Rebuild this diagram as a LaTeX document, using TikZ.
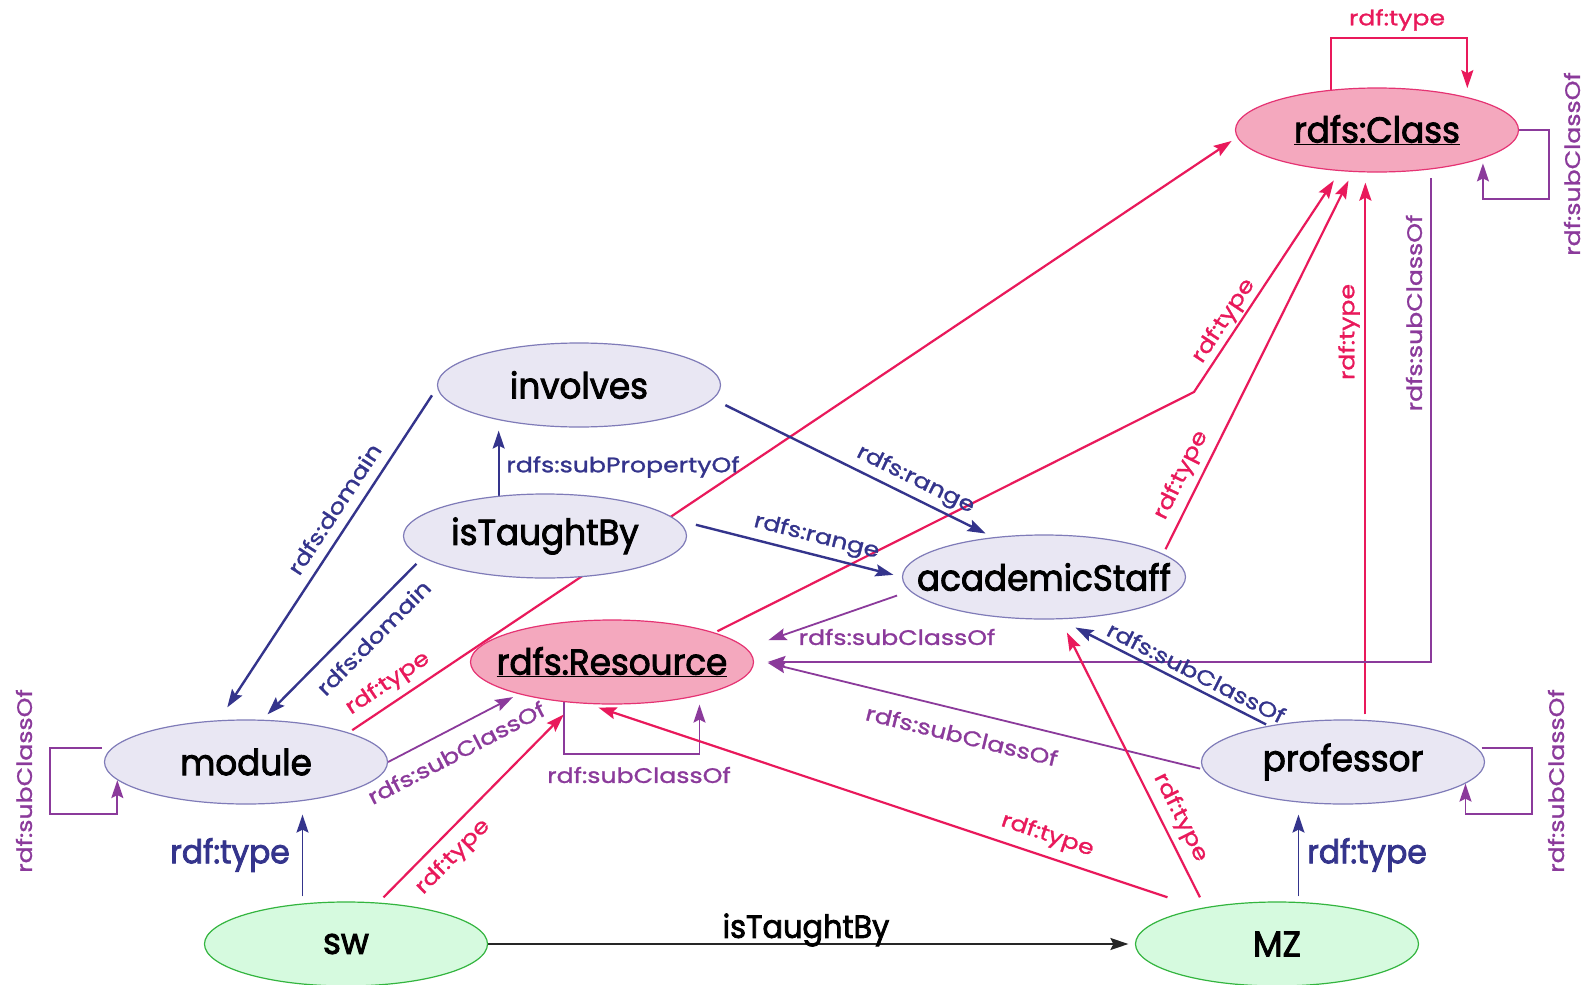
\documentclass[tikz,border=0pt]{standalone}
\usepackage{fontspec}
\setmainfont{Poppins}
\newfontfamily\ndfam{Poppins}[FakeStretch=0.95, FakeBold=2.4]
\newfontfamily\lbfam{Poppins}[FakeStretch=1.2, FakeBold=1.2]
\usetikzlibrary{arrows.meta,shapes.geometric}
\pgfdeclarelayer{background}
\pgfsetlayers{background,main}

\newcommand{\ndfont}{\ndfam\fontsize{36}{42}\selectfont}
\newcommand{\lbfont}{\lbfam\fontsize{21}{25}\selectfont}
\newcommand{\bgfont}{\ndfam\fontsize{33}{38}\selectfont}
\newcommand{\edfont}{\ndfam\fontsize{32}{38}\selectfont}
% node texts take no width, so every ellipse keeps the same size
\newcommand{\ndtext}[1]{\makebox[0pt][c]{#1}}

\definecolor{typered}{HTML}{E9195B}
\definecolor{propblue}{HTML}{34348C}
\definecolor{subpurple}{HTML}{8B3A9B}
\definecolor{propfill}{HTML}{E9E7F3}
\definecolor{propline}{HTML}{7F7BB8}
\definecolor{rdfsfill}{HTML}{F4A8BE}
\definecolor{rdfsline}{HTML}{E53373}
\definecolor{instfill}{HTML}{D6FADF}
\definecolor{instline}{HTML}{33B53F}

\tikzset{
  basenode/.style={ellipse, minimum width=283pt, minimum height=84pt, inner sep=0pt,
    line width=1.2pt, font=\ndfont, text=black},
  propnode/.style={basenode, draw=propline, fill=propfill},
  rdfsnode/.style={basenode, draw=rdfsline, fill=rdfsfill},
  instnode/.style={basenode, draw=instline, fill=instfill},
  tipped/.style={-{Stealth[length=18pt,width=12pt,inset=3pt]}},
  typeedge/.style={tipped, draw=typered, line width=2.2pt},
  domedge/.style={tipped, draw=propblue, line width=2.4pt},
  blueedge/.style={tipped, draw=propblue, line width=1.8pt},
  subedge/.style={tipped, draw=subpurple, line width=1.8pt},
  factedge/.style={tipped, draw=black!85, line width=2pt},
  lbl/.style={font=\lbfont, inner sep=0pt},
  redlbl/.style={lbl, text=typered},
  bluelbl/.style={lbl, text=propblue},
  purplbl/.style={lbl, text=subpurple},
}

\begin{document}
\begin{tikzpicture}[x=1pt,y=-1pt]
\useasboundingbox (0,0) rectangle (1588,985);

% classes, properties and instances
\node[rdfsnode] (cls) at (1377,130) {\ndtext{\underline{rdfs:Class}}};
\node[propnode] (involves) at (579,385) {\ndtext{involves}};
\node[propnode] (taught) at (545,536) {\ndtext{isTaughtBy}};
\node[propnode] (staff) at (1044,577) {\ndtext{academicStaff}};
\node[rdfsnode] (res) at (612,662) {\ndtext{\underline{rdfs:Resource}}};
\node[propnode] (module) at (246,762) {\ndtext{module}};
\node[propnode] (prof) at (1343,762) {\ndtext{professor}};
\node[instnode] (sw) at (346,944) {\ndtext{sw}};
\node[instnode] (mz) at (1277,944) {\ndtext{MZ}};

\coordinate (bend) at (1194,392);

\begin{pgfonlayer}{background}
\fill[white] (0,0) rectangle (1588,985);

% rdfs:Class self loops
\draw[typeedge, shorten >=9pt] (cls.139.2) -- ++(0,-52) -| (cls.20.5);
\node[redlbl] (lclstype) at (1397,20) {rdf:type};
\draw[subedge, shorten >=5pt] (cls.east) -- ++(30,0) -- ++(0,69) -| (cls.345);
\node[purplbl, rotate=90] (lclssub) at (1572,164) {rdf:subClassOf};

% rdf:type into rdfs:Class
\draw[typeedge, shorten <=4.3pt, shorten >=6.5pt] (module.16.43) --
  node[redlbl, sloped, above=6.9pt, pos=0.056] (lmodcls) {rdf:type} (cls.183.48);
\draw[typeedge, shorten <=3pt, shorten >=11.2pt] (res.16.46) -- (bend) --
  node[redlbl, sloped, above=2.1pt, pos=0.286] (lrescls) {rdf:type} (cls.228.64);
\draw[typeedge, shorten <=5.2pt, shorten >=9.6pt] (staff.11.21) --
  node[redlbl, sloped, above=6.7pt, pos=0.184] (lstaffcls) {rdf:type} (cls.240.22);
\draw[typeedge, shorten <=5.5pt, shorten >=10pt] (prof.62.07) -- (prof.62.07 |- cls.south);
\node[redlbl, rotate=90] (lprofcls) at (1349,332) {rdf:type};

% rdfs:subClassOf into rdfs:Resource
\draw[subedge, shorten <=9pt, shorten >=13.5pt] (cls.324.29) |- (res.east);
\node[purplbl, rotate=90] (lclsres) at (1414,313) {rdfs:subClassOf};
\draw[subedge, shorten <=13.6pt, shorten >=23.6pt] (staff.186.88) -- (res.6.34);
\node[purplbl] (lstaffres) at (897,637) {rdfs:subClassOf};
\draw[subedge, shorten <=3pt, shorten >=14.4pt] (prof.183.18) --
  node[purplbl, sloped, below=15.4pt, pos=0.524] (lprofres) {rdfs:subClassOf} (res.1.4);
\draw[subedge, shorten >=6.4pt] (module.east) --
  node[purplbl, sloped, below=14.2pt, pos=0.44] (lmodres) {rdfs:subClassOf} (res.199.36);
\draw[subedge, shorten >=9pt] (res.220.8) -- ++(0,52) -| (res.339.2);
\node[purplbl] (lresloop) at (639,775) {rdf:subClassOf};

% self loops of module and professor
\draw[subedge, shorten <=10pt] (module.174) -- ++(-61.6,0) -- ++(0,66) -| (module.188);
\node[purplbl, rotate=90] (lmodloop) at (24,781) {rdf:subClassOf};
\draw[subedge, shorten <=4.6pt] (prof.6) -- ++(54.6,0) -- ++(0,66) -| (prof.350);
\node[purplbl, rotate=90] (lprofloop) at (1556,781) {rdf:subClassOf};

% domains, ranges and the property hierarchy
\draw[domedge, shorten <=9.4pt, shorten >=15.3pt] (involves.181.7) --
  node[bluelbl, sloped, above=10.1pt, pos=0.397] (linvdom) {rdfs:domain} (module.123.7);
\draw[domedge, shorten <=8.7pt, shorten >=7.4pt] (taught.190.25) --
  node[bluelbl, sloped, below=12pt, pos=0.401] (ltaudom) {rdfs:domain} (module.69.34);
\draw[blueedge, shorten >=3pt] (taught.139.2) -- (taught.139.2 |- involves.south);
\node[bluelbl] (lsubprop) at (623,467) {rdfs:subPropertyOf};
\draw[domedge, shorten <=13.7pt, shorten >=8.4pt] (involves.354.55) --
  node[bluelbl, sloped, above=4.8pt, pos=0.696] (linvrng) {rdfs:range} (staff.142.14);
\draw[domedge, shorten <=20pt, shorten >=8.8pt] (taught.7.4) --
  node[bluelbl, sloped, above=5.5pt, pos=0.602] (ltaurng) {rdfs:range} (staff.180.35);
\draw[domedge, shorten <=2.8pt, shorten >=18pt] (prof.154.39) --
  node[bluelbl, sloped, above=5.5pt, pos=0.377] (lprofstaff) {rdfs:subClassOf} (staff.290.95);

% the instances
\draw[blueedge, shorten <=7pt, shorten >=10pt] (sw.137.78) -- (sw.137.78 |- module.south);
\node[lbl, font=\bgfont, text=propblue] (lswtype) at (230,855) {rdf:type};
\draw[blueedge, shorten <=5.5pt, shorten >=10pt] (mz.63.18) -- (mz.63.18 |- prof.south);
\node[lbl, font=\bgfont, text=propblue] (lmztype) at (1367,855) {rdf:type};
\draw[typeedge, shorten <=7.2pt, shorten >=16pt] (sw.52) --
  node[redlbl, sloped, below=9.5pt, pos=0.303] (lswres) {rdf:type} (res.228.65);
\draw[typeedge, shorten <=34.5pt, shorten >=11.2pt] (mz.155.92) --
  node[redlbl, sloped, above=8.6pt, pos=0.26] (lmzres) {rdf:type} (res.240.26);
\draw[typeedge, shorten <=11.2pt, shorten >=14.8pt] (mz.153.77) --
  node[redlbl, sloped, above=6.3pt, pos=0.283] (lmzstaff) {rdf:type} (staff.291.47);
\draw[factedge, shorten >=6.5pt] (sw.east) -- (mz.west);
\node[lbl, font=\edfont, text=black] (lfact) at (806,930) {isTaughtBy};
\end{pgfonlayer}
\end{tikzpicture}
\end{document}
